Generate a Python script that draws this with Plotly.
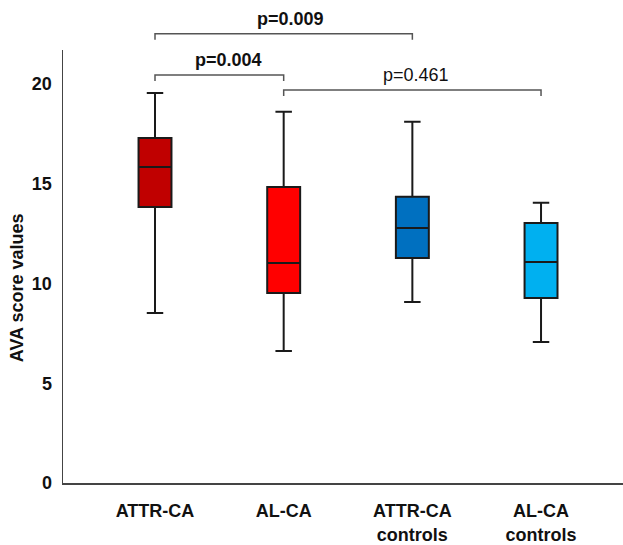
import plotly.graph_objects as go

# ---- data ----
categories = ["ATTR-CA", "AL-CA", "ATTR-CA<br>controls", "AL-CA<br>controls"]
positions = [0, 1, 2, 3]
lowerfence = [8.52, 6.62, 9.07, 7.07]
q1 = [13.83, 9.52, 11.28, 9.27]
median = [15.84, 11.03, 12.78, 11.08]
q3 = [17.29, 14.84, 14.34, 13.03]
upperfence = [19.55, 18.6, 18.1, 14.04]
colors = ["#C00000", "#FF0000", "#0070C0", "#00B0F0"]

y_ticks = [0, 5, 10, 15, 20]

# significance brackets: (from, to, bar height, label, label x, label y, bold)
br_from = [0, 0, 1]
br_to = [2, 1, 3]
br_height = [22.51, 20.45, 19.70]
br_label = ["p=0.009", "p=0.004", "p=0.461"]
br_label_x = [1.05, 0.575, 2.03]
br_label_y = [23.25, 21.2, 20.45]
br_bold = [True, True, False]

YMAX = 21.70
XMIN, XMAX = -0.715, 3.637
FONT = "Arial, Liberation Sans, sans-serif"

fig = go.Figure()
for i in range(len(categories)):
    fig.add_trace(go.Box(
        x=[positions[i]],
        q1=[q1[i]], median=[median[i]], q3=[q3[i]],
        lowerfence=[lowerfence[i]], upperfence=[upperfence[i]],
        width=0.256, whiskerwidth=0.5,
        fillcolor=colors[i],
        line=dict(color="#1a1a1a", width=2),
        boxpoints=False, hoverinfo="skip", showlegend=False,
    ))

shapes = []
annotations = []
tick_depth = 0.3
for a, b, h, lab, lx, ly, bold in zip(br_from, br_to, br_height, br_label, br_label_x, br_label_y, br_bold):
    path = (f"M {a},{(h - tick_depth) / YMAX} L {a},{h / YMAX} "
            f"L {b},{h / YMAX} L {b},{(h - tick_depth) / YMAX}")
    shapes.append(dict(type="path", xref="x", yref="paper", path=path,
                       line=dict(color="#555555", width=1.5)))
    annotations.append(dict(
        x=lx, y=ly / YMAX, xref="x", yref="paper",
        text=f"<b>{lab}</b>" if bold else lab, showarrow=False,
        xanchor="center", yanchor="middle",
        font=dict(family=FONT, size=18, color="#111111"),
    ))

annotations.append(dict(
    x=-0.082, y=0.45, xref="paper", yref="paper",
    text="<b>AVA score values</b>", showarrow=False, textangle=-90,
    xanchor="center", yanchor="middle",
    font=dict(family=FONT, size=18, color="#111111"),
))

fig.update_layout(
    template="none",
    width=623, height=545,
    margin=dict(l=63, r=0, t=50, b=62, autoexpand=False),
    paper_bgcolor="white", plot_bgcolor="white",
    font=dict(family=FONT, size=18, color="#111111"),
    shapes=shapes, annotations=annotations,
    xaxis=dict(
        range=[XMIN, XMAX], tickvals=positions,
        ticktext=[f"<b>{c}</b>" for c in categories],
        showline=True, linecolor="#444444", linewidth=1.5,
        showgrid=False, zeroline=False, ticks="", automargin=False,
        tickfont=dict(family=FONT, size=18, color="#111111"),
        ticklabelstandoff=11,
    ),
    yaxis=dict(
        range=[0, YMAX], tickvals=y_ticks,
        ticktext=[f"<b>{t}</b>" for t in y_ticks],
        showline=True, linecolor="#444444", linewidth=1.5,
        showgrid=False, zeroline=False, ticks="", automargin=False,
        tickfont=dict(family=FONT, size=18, color="#111111"),
        ticklabelstandoff=6,
    ),
)

fig.write_html(
    "out.html",
    config={"displayModeBar": False, "staticPlot": True},
    post_script="document.body.style.margin='0';document.body.style.overflow='hidden';",
)
